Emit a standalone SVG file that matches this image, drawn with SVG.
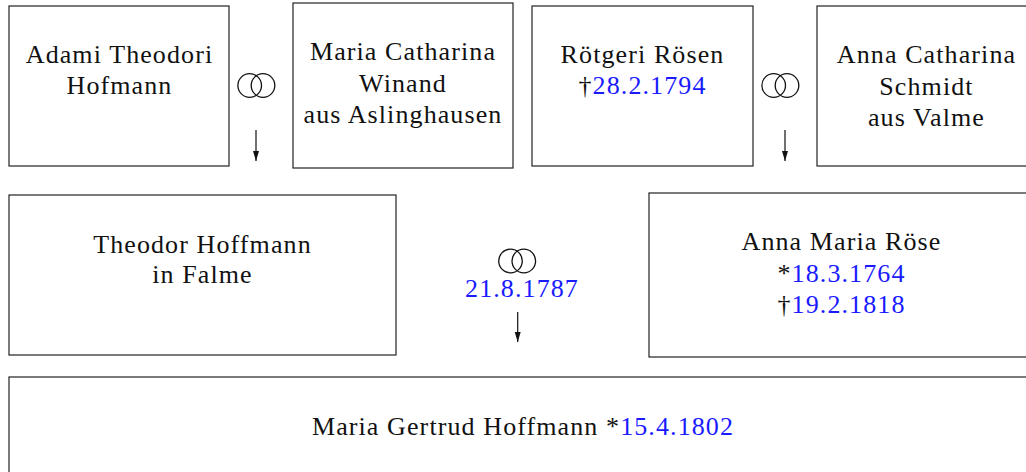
<svg xmlns="http://www.w3.org/2000/svg" width="1026" height="472" viewBox="0 0 1026 472">
<style>
.box{fill:#fff;stroke:#222;stroke-width:1.2}
text{font-family:'Liberation Serif','DejaVu Serif',serif;font-size:26px;fill:#111;text-anchor:middle;letter-spacing:1.1px}
.d{fill:#1a1aff}
.ring{fill:none;stroke:#111;stroke-width:1.3}
.arr{stroke:#111;stroke-width:1.2;marker-end:url(#ah)}
</style>
<defs>
<marker id="ah" markerWidth="10" markerHeight="8" refX="10" refY="4" orient="auto" markerUnits="userSpaceOnUse" viewBox="0 0 10 8">
<path d="M0,1 L10,4 L0,7 Z" fill="#111"/>
</marker>
</defs>
<rect width="1026" height="472" fill="#fff"/>
<g font-family="Liberation Serif, DejaVu Serif, serif">
<g id="adami">
<rect class="box" x="9" y="6" width="220" height="160"/>
<text x="119.5" y="63">Adami Theodori</text>
<text x="119.5" y="94">Hofmann</text>
</g>
<g id="maria-catharina">
<rect class="box" x="293" y="3" width="220" height="165"/>
<text x="403" y="60">Maria Catharina</text>
<text x="403" y="91.5">Winand</text>
<text x="403" y="123">aus Aslinghausen</text>
</g>
<g id="roetgeri">
<rect class="box" x="532" y="6" width="221" height="160"/>
<text x="642.5" y="63">Rötgeri Rösen</text>
<text x="642.5" y="94">†<tspan class="d">28.2.1794</tspan></text>
</g>
<g id="anna-catharina">
<rect class="box" x="817" y="6" width="219" height="160"/>
<text x="926.5" y="63">Anna Catharina</text>
<text x="926.5" y="94.5">Schmidt</text>
<text x="926.5" y="126">aus Valme</text>
</g>
<g id="theodor">
<rect class="box" x="9" y="195" width="387" height="160"/>
<text x="202.5" y="253">Theodor Hoffmann</text>
<text x="202.5" y="283">in Falme</text>
</g>
<g id="anna-maria">
<rect class="box" x="649" y="193" width="385" height="164"/>
<text x="841.5" y="250">Anna Maria Röse</text>
<text x="841.5" y="282">*<tspan class="d">18.3.1764</tspan></text>
<text x="841.5" y="313">†<tspan class="d">19.2.1818</tspan></text>
</g>
<g id="maria-gertrud">
<rect class="box" x="9" y="377" width="1028" height="110"/>
<text x="523" y="435">Maria Gertrud Hoffmann *<tspan class="d">15.4.1802</tspan></text>
</g>
<g id="connectors">
<g id="marriage1">
<circle class="ring" cx="249.7" cy="85.5" r="11.8"/>
<circle class="ring" cx="263" cy="85.5" r="11.8"/>
<line class="arr" x1="256" y1="130" x2="256" y2="161"/>
</g>
<g id="marriage2">
<circle class="ring" cx="773.7" cy="85.5" r="11.8"/>
<circle class="ring" cx="787" cy="85.5" r="11.8"/>
<line class="arr" x1="785" y1="130" x2="785" y2="161"/>
</g>
<g id="marriage3">
<circle class="ring" cx="510.5" cy="261" r="11.8"/>
<circle class="ring" cx="523.8" cy="261" r="11.8"/>
<text class="d" x="522" y="297">21.8.1787</text>
<line class="arr" x1="517.7" y1="312" x2="517.7" y2="342"/>
</g>
</g>
</g>
</svg>
